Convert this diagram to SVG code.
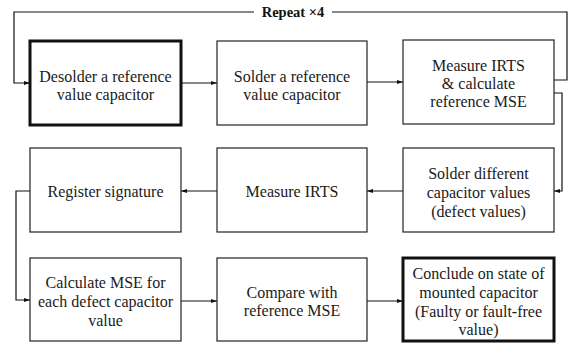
<svg xmlns="http://www.w3.org/2000/svg" width="571" height="343" viewBox="0 0 571 343">
<defs>
<marker id="ah" viewBox="0 0 10 10" refX="10" refY="5" markerWidth="6" markerHeight="6" orient="auto" markerUnits="userSpaceOnUse">
<path d="M0,1.5 L10,5 L0,8.5 z" fill="#111"/>
</marker>
<style>
text{font-family:"Liberation Serif","Times New Roman",Times,"DejaVu Serif",serif}
.box{fill:#fff;stroke:#222;stroke-width:1.2}
.thick{fill:#fff;stroke:#111;stroke-width:3}
.t{font-size:16px;fill:#1a1a1a;text-anchor:middle}
.c{fill:none;stroke:#111;stroke-width:1.2}
.lbl{font-size:14.5px;font-weight:bold;fill:#111;text-anchor:middle}
</style>
</defs>
<rect width="571" height="343" fill="#fff"/>
<g id="connectors">
<path class="c" d="M254,12 H14 V83 H30" marker-end="url(#ah)"/>
<path class="c" d="M332,12 H567 V80 H554"/>
<text class="lbl" x="293" y="17">Repeat ×4</text>
<path class="c" d="M554,93 H562 V191 H554" marker-end="url(#ah)"/>
<path class="c" d="M181,83 H217" marker-end="url(#ah)"/>
<path class="c" d="M367,82 H403" marker-end="url(#ah)"/>
<path class="c" d="M403,191 H367" marker-end="url(#ah)"/>
<path class="c" d="M217,191 H181" marker-end="url(#ah)"/>
<path class="c" d="M30,191 H16 V300 H30" marker-end="url(#ah)"/>
<path class="c" d="M181,301 H217" marker-end="url(#ah)"/>
<path class="c" d="M367,301 H403" marker-end="url(#ah)"/>
</g>
<g id="n1">
<rect class="thick" x="30" y="41" width="151" height="84"/>
<text class="t" x="105.5" y="81.5">Desolder a reference</text>
<text class="t" x="105.5" y="99.5">value capacitor</text>
</g>
<g id="n2">
<rect class="box" x="217" y="41" width="150" height="84"/>
<text class="t" x="292" y="81.5">Solder a reference</text>
<text class="t" x="292" y="99.5">value capacitor</text>
</g>
<g id="n3">
<rect class="box" x="403" y="40" width="151" height="84"/>
<text class="t" x="478.5" y="70.5">Measure IRTS</text>
<text class="t" x="478.5" y="88.5">&amp; calculate</text>
<text class="t" x="478.5" y="106.5">reference MSE</text>
</g>
<g id="n4">
<rect class="box" x="403" y="148" width="151" height="84"/>
<text class="t" x="478.5" y="178.5">Solder different</text>
<text class="t" x="478.5" y="197.5">capacitor values</text>
<text class="t" x="478.5" y="216.5">(defect values)</text>
</g>
<g id="n5">
<rect class="box" x="217" y="148" width="150" height="84"/>
<text class="t" x="292" y="196.5">Measure IRTS</text>
</g>
<g id="n6">
<rect class="box" x="30" y="148" width="151" height="84"/>
<text class="t" x="105.5" y="196.5">Register signature</text>
</g>
<g id="n7">
<rect class="box" x="30" y="258" width="151" height="83"/>
<text class="t" x="105.5" y="287.5">Calculate MSE for</text>
<text class="t" x="105.5" y="306.5">each defect capacitor</text>
<text class="t" x="105.5" y="325.5">value</text>
</g>
<g id="n8">
<rect class="box" x="217" y="258" width="150" height="83"/>
<text class="t" x="292" y="297.5">Compare with</text>
<text class="t" x="292" y="315.5">reference MSE</text>
</g>
<g id="n9">
<rect class="thick" x="403" y="258" width="151" height="83"/>
<text class="t" x="478.5" y="278.5">Conclude on state of</text>
<text class="t" x="478.5" y="297.5">mounted capacitor</text>
<text class="t" x="478.5" y="316.5">(Faulty or fault-free</text>
<text class="t" x="478.5" y="334.5">value)</text>
</g>
</svg>
